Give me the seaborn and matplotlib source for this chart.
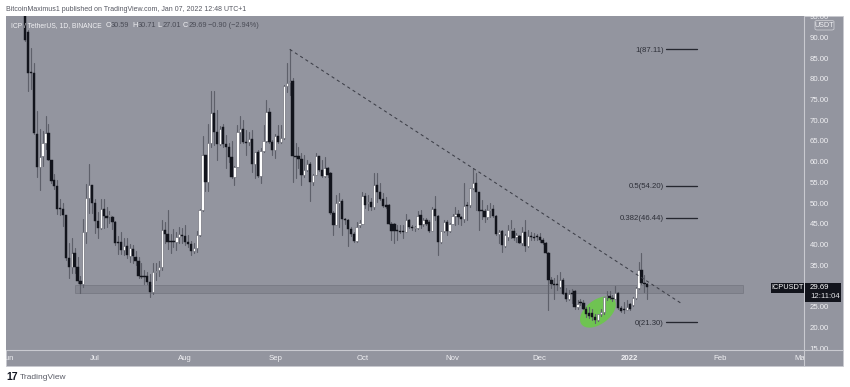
import matplotlib
matplotlib.use("Agg")
import matplotlib.pyplot as plt
import seaborn as sns
import pandas as pd
from matplotlib.patches import Rectangle, Ellipse, FancyBboxPatch
from matplotlib.lines import Line2D
from matplotlib.transforms import Bbox, ScaledTranslation
from matplotlib.dates import date2num

opens = [100,91.3,81.4,81.4,66.7,58.7,61.4,64.4,66.9,60.4,
 55.6,54.1,48.7,48.6,47.1,36.8,34.6,38,34.6,31.2,
 30.5,43,51.2,54.4,50,45.7,44,48.6,46.9,46.9,
 46.6,45.5,40.5,40.6,38.7,39.7,37.3,39,37.1,36.1,
 32.5,32.4,32.4,31,28.6,33.4,33.9,34.7,43.5,42.6,
 40.8,41,40.7,41.9,42.3,42.1,40.7,40.2,38.5,39.3,
 42.3,48.4,61.6,55.2,64.4,71.7,67.2,64.3,68.3,64.3,
 63.5,61.2,56.4,58.8,67.1,68,64.7,64.7,65.6,59.4,
 62.3,56.5,62.6,65,72,64.8,62.8,66.3,64.7,65.8,
 78.3,79.3,79.5,61.4,61.3,60.6,56.9,58,59.4,55.2,
 56.8,61.4,58,56.5,58.6,57.2,47.6,44.8,50,50.6,
 46.1,46,43.8,42.6,40.9,44.7,45.1,51.8,50,50.4,
 49.2,54.5,52.6,51,49.5,49.6,45.1,45.1,43.3,43.3,
 43.2,43.1,45.9,44.3,43.9,43.9,47.1,45,46,45.5,
 43.4,48.7,46.9,40.7,43.3,45.5,43.4,45,47,47.3,
 46.6,46.1,49.4,49.5,53.6,54.9,52.6,48.2,48,46.6,
 48.3,48.5,46.9,42.6,43.3,39.7,41.8,43.5,43.4,41.9,
 42,40.5,43.1,39.7,42,41.8,42,41.8,41.1,40.3,
 38.1,31.6,30.5,30.6,29.9,31.6,28.4,26.8,28.2,28.8,
 24.9,26,26,24.6,23.6,23.6,22.6,21.8,23.2,23.7,
 27.3,27.6,27.2,26.9,28.4,24.8,24.5,24.2,25.7,25.4,
 27.2,29.5,33.9,30.8,30.59]
closes = [89.3,81.4,81.3,66.9,58.7,61.2,64.4,66.9,60.4,55.3,
 54.1,48.6,48.5,47.1,36.8,34.6,38,34.6,31.2,30.5,
 43,51.2,54.4,50,45.7,44,48.6,46.9,46.5,47,
 45.5,40.4,40.3,38.7,39.7,37.5,39.1,37.2,36.1,32.4,
 32.3,32.3,31,28.6,33.5,33.6,34.7,43.5,42.6,40.7,
 40.6,40.7,41.9,42.6,42.2,40.7,40.2,38.5,39.3,42.3,
 48.4,61.6,55.2,64.4,71.7,67.2,64.3,68,64.3,63.5,
 61.2,56.3,58.8,67.1,68,64.7,64.6,65.6,59.4,62.3,
 56.5,62.6,65,72,64.8,62.8,66.3,64.7,65.8,78.3,
 79.1,79.5,61.4,61.1,60.6,56.9,58,59.4,55.2,56.8,
 61.4,58,56.5,58.6,56.8,47.6,44.8,50,50.6,46.1,
 46,43.8,42.6,40.9,44.3,45.3,51.8,49.6,50.4,49.2,
 54.5,52.6,51,49.3,49.2,45.1,43.3,43.3,43.2,43.1,
 43.1,45.9,44.3,43.9,43.9,47,44.7,46,45.1,43.4,
 48.7,46.9,40.7,43.3,45.5,43.4,45,47,47.5,46.6,
 46.1,49.4,49.3,53.6,54.9,52.6,48.2,48,46.6,48.3,
 48.5,46.9,42.6,43.1,39.9,42.3,43.5,43.5,41.5,42.3,
 40.5,43.1,39.7,42,41.8,41.7,41.8,41.1,40.3,38,
 31.6,30.5,30.3,30.2,31.6,28.2,26.8,28.1,28,24.9,
 25.7,25.9,24.6,23.2,22.8,22.6,21.8,23.2,23.7,27.3,
 27.6,27.2,26.9,28.4,24.8,24.1,24.3,24.9,24.4,27.2,
 29.5,33.9,30.8,30.6,29.69]
highs = [104,91.8,87.5,83.8,72.2,67.9,67.4,71,69,60.5,
 57,55.5,51,50,47.2,40.4,41.6,39.2,37,32.4,
 46.2,54.6,59.4,54.5,51,47.8,51,51,49,48,
 47,45.7,42,43,41.5,41.5,40.2,40,38.5,37,
 35.5,34,33.5,33,35.5,35.5,36,46,45.5,48.3,
 42.5,43.8,43,44.3,44,44.8,42.3,41,40.5,43.2,
 48.6,66.3,61.7,69,77,77,72.5,68.5,69,66.5,
 64.5,65,59,68.8,71.1,70,67.6,67.2,67.6,62.4,
 62.8,63.2,68.8,74.9,72.9,65.2,66.8,68.8,68.8,78.5,
 83.7,87.2,80.1,64.4,63.6,62,61.6,60.4,60,57,
 62,61.5,60.4,61.2,58.8,57.6,48.2,52,52.4,51,
 46.4,46.2,44.3,43,45.5,46,52.8,52.4,52,51.2,
 57.4,57.2,54.8,52.4,51.6,49.7,45.5,45.2,44.7,44.7,
 44.7,47.4,46.3,44.7,44.5,48.2,48.3,46.4,46.4,45.9,
 49.2,51.7,47.1,43.4,45.9,45.9,45.3,47.5,49.2,48.3,
 46.8,54.9,50.4,53.7,58.4,57.2,52.7,50.8,48.7,49.6,
 50,49.6,47.1,43.5,43.5,42.6,44.7,45.9,44,42.7,
 42.3,44.3,45.9,43.5,43.1,42.7,42.6,42.9,41.5,40.7,
 38.2,32.3,31.9,32.7,33.5,31.9,29.5,29.1,29.3,29,
 26.6,26.8,26.6,24.9,24.9,24.6,23.4,23.4,24.6,27.5,
 28.9,28.9,27.9,30,28.5,25.2,26.2,26.6,25.9,27.5,
 29.9,35.7,38.1,32.7,30.71]
lows = [89,77,77.5,66.8,56.2,53.2,59,63,60.3,54.8,
 53.4,47.5,47.2,44.5,36.4,32,33.2,33.2,30.7,28.4,
 29.7,40.4,47.6,47.6,42.8,41.6,43.8,44,44.2,45.3,
 43.8,39.8,37.8,37.8,37.4,36.8,35.8,35.5,35,32,
 32,30.6,30.5,27.3,28.2,31.5,32.5,34,40.5,39,
 38,39.5,38.8,40.5,40.5,39.8,39.5,37.6,38,38.3,
 42,48,53,53,63.5,64,60.3,64,63.5,58.5,
 60,56,54.4,58.8,64.4,64.4,61.6,64,57.6,56,
 56.4,54.8,62.4,64.8,64.6,61.6,60.8,64.4,64.4,65.6,
 76.9,76,55.2,56,58.4,54.5,56.4,57.8,50.5,54.5,
 56.7,57.7,56.3,56.3,56.4,47.5,42.3,44.7,44.3,42.3,
 45,39.7,42,40.7,40.7,44.3,45.1,48.8,48.4,48.4,
 48.7,50.4,50.7,49.1,48.8,44.9,41.1,40.3,41.1,42.7,
 41.5,43,43.9,43.5,43.2,43.8,43.9,44.6,44.7,43.1,
 43.3,45.9,37.5,40.5,43.1,42.3,43.1,45,44.7,45.1,
 44.7,45.5,45.9,49.2,53.5,48.4,43.5,46.3,45.5,46.3,
 46.7,46.7,42.3,40.3,38.3,39.5,41.1,41.5,41.1,40.7,
 40.3,39.9,38.5,39.5,41.1,41.1,41.1,40.7,40.2,37.9,
 24.2,29.5,27,29,29.5,28.1,26.5,26.6,26,24.4,
 24.6,25.4,24.4,22.6,22.2,21.8,21.2,21.6,22.8,23.4,
 26.6,26.8,26.4,26.8,24.6,23.8,23.6,24.2,24.2,25.3,
 27,29.4,30.6,28.7,27.01]

first_day = "2021-06-07"
fib_ratios = ["1", "0.5", "0.382", "0"]
fib_prices = [87.11, 54.20, 46.44, 21.30]
trend_dates = ["2021-09-06", "2022-01-19"]
trend_prices = [87.1, 25.7]
zone_dates = ["2021-06-24", "2022-02-09"]
zone_prices = [28.4, 30.3]
price_ticks = [15, 20, 25, 35, 40, 45, 50, 55, 60, 65, 70, 75, 80, 85, 90, 95]
month_dates = ["2021-06-01", "2021-07-01", "2021-08-01", "2021-09-01", "2021-10-01",
               "2021-11-01", "2021-12-01", "2022-01-01", "2022-02-01", "2022-03-01"]
month_labels = ["Jun", "Jul", "Aug", "Sep", "Oct", "Nov", "Dec", "2022", "Feb", "Mar"]

BG = "#93959f"
LIGHT = "#f0f0f3"
DARK = "#12141c"
RULE = "#c9cad0"
W, H = 850, 387
TICK_FS = 5.6

sns.set_theme(style="white")
plt.rcParams["font.family"] = ["Liberation Sans", "DejaVu Sans"]

fig = plt.figure(figsize=(W / 100, H / 100), dpi=100, facecolor="white")

def fx(px): return px / W
def fy(py): return 1 - py / H

fig.add_artist(Rectangle((fx(6), fy(366)), fx(843) - fx(6), fy(16) - fy(366),
                         transform=fig.transFigure, fc=BG, ec=RULE, lw=0.6, zorder=-5))
ax = fig.add_axes([fx(6), fy(350), fx(804) - fx(6), fy(16) - fy(350)])
ax.set_facecolor(BG)
for s in ax.spines.values():
    s.set_visible(False)

dates = pd.date_range(first_day, periods=len(opens), freq="D")
df = pd.DataFrame({"date": dates, "open": opens, "close": closes, "high": highs, "low": lows})
df["candle"] = range(len(df))

wicks = df.melt(id_vars=["date", "candle"], value_vars=["high", "low"], value_name="price")
sns.lineplot(data=wicks, x="date", y="price", units="candle", estimator=None,
             color="#5e606a", lw=0.85, legend=False, ax=ax, zorder=3, sort=False)

up = df[df["close"] >= df["open"]]
down = df[df["close"] < df["open"]]
ax.bar(up["date"], (up["close"] - up["open"]).clip(lower=0.25), bottom=up["open"], width=0.8,
       color="#ffffff", edgecolor="#6b6d77", linewidth=0.45, zorder=4)
ax.bar(down["date"], (down["close"] - down["open"]).abs().clip(lower=0.25), bottom=down["close"],
       width=0.8, color=DARK, edgecolor=DARK, linewidth=0.3, zorder=4)

# support zone
zd = pd.to_datetime(zone_dates)
ax.add_patch(Rectangle((zd[0], zone_prices[0]), zd[1] - zd[0], zone_prices[1] - zone_prices[0],
                       fc="#666873", alpha=0.3, ec="#50525c", lw=0.7, zorder=2))

# descending trend line
sns.lineplot(x=pd.to_datetime(trend_dates), y=trend_prices, color="#3c3e47", lw=0.75,
             linestyle=(0, (3, 3)), ax=ax, zorder=5, legend=False)

# green highlight
cx = date2num(pd.Timestamp("2021-12-21"))
ell = Ellipse((0, 0), 41, 24, angle=37, fc="#6fc352", ec="none", zorder=2.5,
              transform=ScaledTranslation(cx, 23.76, ax.transData))
ax.add_patch(ell)

# fib levels
fib_x0 = pd.Timestamp("2022-01-13 12:00")
fib_x1 = fib_x0 + pd.Timedelta(days=10.6)
for r, p in zip(fib_ratios, fib_prices):
    ax.plot([fib_x0, fib_x1], [p, p], color="#25272f", lw=0.95, zorder=5)
    ax.text(fib_x0 - pd.Timedelta(days=0.8), p, f"{r}({p:.2f})", ha="right", va="center_baseline",
            fontsize=TICK_FS, color="#2d2f38", zorder=6)

ax.set_xlim(pd.Timestamp("2021-07-01") - pd.Timedelta(days=30.6),
            pd.Timestamp("2021-07-01") + pd.Timedelta(days=243.9))
ax.set_ylim(14.6, 95.14)
ax.set_xlabel("")
ax.set_ylabel("")

ax.yaxis.tick_right()
ax.set_yticks(price_ticks)
ax.set_yticklabels([f"{t:.2f}" for t in price_ticks], fontsize=TICK_FS, color=LIGHT)
ax.set_xticks(pd.to_datetime(month_dates))
ax.set_xticklabels(month_labels, fontsize=TICK_FS, color=LIGHT)
ax.tick_params(axis="both", length=0, pad=4)
ax.tick_params(axis="x", pad=3.6)
for lbl in ax.get_xticklabels():
    lbl.set_clip_box(Bbox([[6, 0], [804, H]]))
    lbl.set_clip_on(True)
    if lbl.get_text() == "2022":
        lbl.set_fontweight("bold")
for lbl in ax.get_yticklabels():
    lbl.set_clip_box(Bbox([[804, H - 350], [843, H - 16]]))
    lbl.set_clip_on(True)

# axis separators
fig.add_artist(Line2D([fx(804), fx(804)], [fy(16), fy(366)], color=RULE, lw=0.8, zorder=7))
fig.add_artist(Line2D([fx(6), fx(843)], [fy(350), fy(350)], color=RULE, lw=0.8, zorder=7))

# price tags
fig.add_artist(Rectangle((fx(771), fy(292.5)), fx(804) - fx(771), fy(283) - fy(292.5),
                         transform=fig.transFigure, fc=DARK, ec="none", zorder=8))
fig.add_artist(Rectangle((fx(804.5), fy(301.5)), fx(841) - fx(804.5), fy(283) - fy(301.5),
                         transform=fig.transFigure, fc=DARK, ec="none", zorder=8))
fig.text(fx(787.5), fy(287.8), "ICPUSDT", fontsize=5.3, color="white", ha="center", va="center", zorder=9)
fig.text(fx(810), fy(287.8), "29.69", fontsize=TICK_FS, color="white", ha="left", va="center", zorder=9)
fig.text(fx(810), fy(296.3), "12:11:04", fontsize=TICK_FS, color="#e4e5e9", ha="left", va="center", zorder=9)

# USDT badge
fig.add_artist(FancyBboxPatch((fx(815), fy(30)), fx(834) - fx(815), fy(20.5) - fy(30),
                              boxstyle="round,pad=0,rounding_size=0.003", transform=fig.transFigure,
                              fc=BG, ec=RULE, lw=0.6, zorder=8))
fig.text(fx(824.5), fy(25.3), "USDT", fontsize=5.2, color=LIGHT, ha="center", va="center", zorder=9)

# header and legend texts
fig.text(fx(6), fy(9.4), "BitcoinMaximus1 published on TradingView.com, Jan 07, 2022 12:48 UTC+1",
         fontsize=5.0, color="#555761", ha="left", va="center")
fig.text(fx(11), fy(25.3), "ICP / TetherUS, 1D, BINANCE", fontsize=4.85, color=LIGHT, ha="left", va="center", zorder=9)
legend_x = [105.5, 132, 157.5, 183]
legend_k = ["O", "H", "L", "C"]
legend_v = ["30.59", "30.71", "27.01", "29.69"]
for lx, k, v in zip(legend_x, legend_k, legend_v):
    fig.text(fx(lx), fy(25.3), k, fontsize=5.3, color=LIGHT, ha="left", va="center", zorder=9)
    fig.text(fx(lx + 5.4), fy(25.3), v, fontsize=5.3, color="#4a4c56", ha="left", va="center", zorder=9)
fig.text(fx(208), fy(25.3), "\u22120.90 (\u22122.94%)", fontsize=5.3, color="#4a4c56", ha="left", va="center", zorder=9)

# footer
fig.text(fx(6), fy(377.3), "17", fontsize=7.5, color="#131722", fontweight="bold", ha="left", va="center")
fig.text(fx(20), fy(377.3), "TradingView", fontsize=6, color="#5c5e68", ha="left", va="center")

fig.savefig("out.png", dpi=100)
